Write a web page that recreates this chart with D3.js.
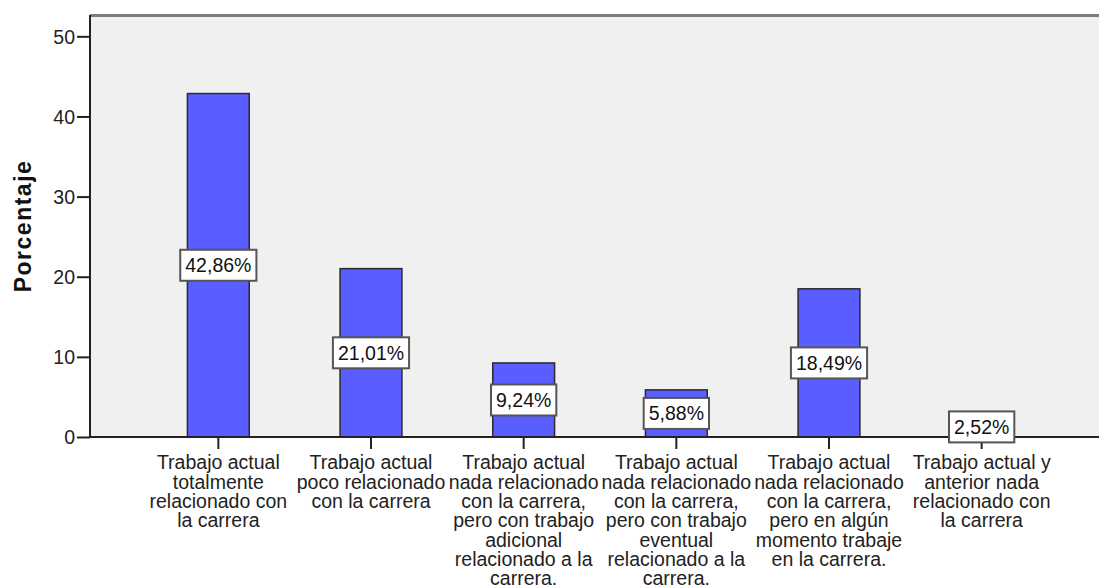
<!DOCTYPE html>
<html>
<head>
<meta charset="utf-8">
<script src="https://cdn.jsdelivr.net/npm/d3@7"></script>
<style>
  html, body { margin: 0; padding: 0; background: #fff; }
  svg { display: block; font-family: "Liberation Sans", Arial, sans-serif; }
</style>
</head>
<body>
<svg id="chart" width="1099" height="587"></svg>
<script>
const categories = [
  "Trabajo actual\ntotalmente\nrelacionado con\nla carrera",
  "Trabajo actual\npoco relacionado\ncon la carrera",
  "Trabajo actual\nnada relacionado\ncon la carrera,\npero con trabajo\nadicional\nrelacionado a la\ncarrera.",
  "Trabajo actual\nnada relacionado\ncon la carrera,\npero con trabajo\neventual\nrelacionado a la\ncarrera.",
  "Trabajo actual\nnada relacionado\ncon la carrera,\npero en algún\nmomento trabaje\nen la carrera.",
  "Trabajo actual y\nanterior nada\nrelacionado con\nla carrera"
];
const values = [42.86, 21.01, 9.24, 5.88, 18.49, 2.52];
const yTicks = [0, 10, 20, 30, 40, 50];
const yTitle = "Porcentaje";

const svg = d3.select("#chart");
const plot = { left: 90, top: 15, right: 1099, bottom: 437 };

const x = d3.scaleBand().domain(d3.range(categories.length))
  .range([142, 1058]).paddingInner(0.595).paddingOuter(0.2975);
const y = d3.scaleLinear().domain([0, 52.66]).range([plot.bottom, plot.top]);

// plot background
svg.append("rect").attr("x", plot.left).attr("y", plot.top)
  .attr("width", plot.right - plot.left).attr("height", plot.bottom - plot.top)
  .attr("fill", "#f0f0f0");
// top border
svg.append("line").attr("x1", plot.left).attr("x2", plot.right)
  .attr("y1", plot.top + 0.5).attr("y2", plot.top + 0.5)
  .attr("stroke", "#7d7d7d").attr("stroke-width", 3);

// bars
svg.append("g").selectAll("rect").data(values).join("rect")
  .attr("x", (d, i) => x(i))
  .attr("y", d => y(d))
  .attr("width", x.bandwidth())
  .attr("height", d => y(0) - y(d))
  .attr("fill", "#5a5dff")
  .attr("stroke", "#2b2b2b").attr("stroke-width", 1.5);

// y axis
const yAxis = svg.append("g").attr("transform", `translate(${plot.left},0)`)
  .call(d3.axisLeft(y).tickValues(yTicks).tickFormat(d3.format("d")).tickSize(13).tickPadding(2));
yAxis.select(".domain").remove();
yAxis.selectAll(".tick line").attr("stroke", "#222").attr("stroke-width", 2);
yAxis.selectAll(".tick text").attr("fill", "#222").style("font-size", "19.5px")
  .attr("dy", "0.35em");
svg.append("line").attr("x1", plot.left).attr("x2", plot.left)
  .attr("y1", plot.top).attr("y2", plot.bottom + 1)
  .attr("stroke", "#222").attr("stroke-width", 2);

// x axis
const xAxis = svg.append("g").attr("transform", `translate(0,${plot.bottom})`)
  .call(d3.axisBottom(x).tickFormat(i => categories[i]).tickSize(12).tickPadding(4));
xAxis.select(".domain").remove();
xAxis.selectAll(".tick line").attr("stroke", "#222").attr("stroke-width", 2);
xAxis.selectAll(".tick text").each(function(i) {
  const t = d3.select(this);
  const lines = categories[i].split("\n");
  t.text(null).attr("fill", "#222").style("font-size", "19.5px").attr("y", 0).attr("dy", null);
  lines.forEach((ln, k) => {
    t.append("tspan").attr("x", 0).attr("y", 32.3 + k * 19.3).text(ln);
  });
});
svg.append("line").attr("x1", plot.left - 1).attr("x2", plot.right)
  .attr("y1", plot.bottom).attr("y2", plot.bottom)
  .attr("stroke", "#222").attr("stroke-width", 2);

// value labels
const fmt = v => d3.format(".2f")(v).replace(".", ",") + "%";
const lab = svg.append("g").selectAll("g").data(values).join("g")
  .attr("transform", (d, i) => `translate(${x(i) + x.bandwidth() / 2},${y(d / 2)})`);
lab.append("text").attr("text-anchor", "middle").attr("dy", "0.36em")
  .style("font-size", "19.5px").attr("fill", "#111").text(fmt);
lab.each(function() {
  const g = d3.select(this);
  const bb = g.select("text").node().getBBox();
  g.insert("rect", "text")
    .attr("x", -bb.width / 2 - 5).attr("y", -15.5)
    .attr("width", bb.width + 10).attr("height", 31)
    .attr("fill", "#fff").attr("stroke", "#555").attr("stroke-width", 2);
});

// y title
svg.append("text")
  .attr("transform", `translate(31,${(plot.top + plot.bottom) / 2}) rotate(-90)`)
  .attr("text-anchor", "middle")
  .style("font-size", "23px").style("font-weight", "bold").style("letter-spacing", "1.5px")
  .attr("fill", "#111").text(yTitle);
</script>
</body>
</html>
